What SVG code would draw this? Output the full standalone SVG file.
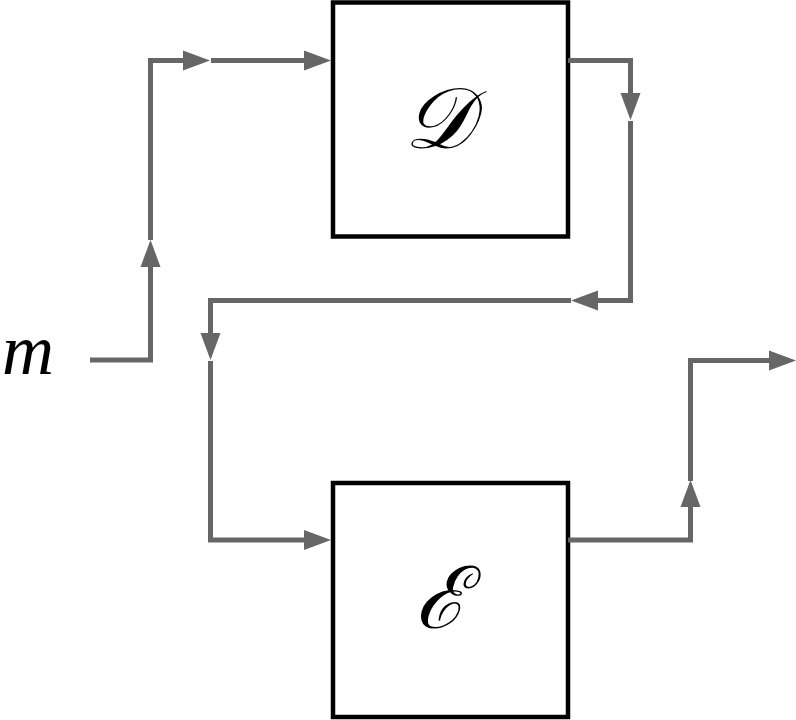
<svg xmlns="http://www.w3.org/2000/svg" width="796" height="720" viewBox="0 0 796 720">
<style>
.box{fill:#fff;stroke:#000;stroke-width:4.5}
.wire{fill:none;stroke:#666;stroke-width:5;stroke-linejoin:miter}
.sym{font-family:"DejaVu Serif","Liberation Serif",serif;font-style:italic;fill:#000}
</style>
<defs>
<marker id="ah" markerUnits="userSpaceOnUse" markerWidth="28" markerHeight="22" viewBox="0 -11 28 22" refX="0" refY="0" orient="auto">
<path d="M0,-10 L27,0 L0,10 Z" fill="#666"/>
</marker>
</defs>
<rect width="796" height="720" fill="#fff"/>
<g id="node-D">
<rect class="box" x="333" y="2.5" width="235" height="234"/>
<text class="sym" x="438" y="148" font-size="86" text-anchor="middle">𝒟</text>
</g>
<g id="node-E">
<rect class="box" x="333" y="483" width="235" height="234"/>
<text class="sym" x="441" y="628" font-size="86" text-anchor="middle">ℰ</text>
</g>
<g id="label-m">
<text x="2" y="374" font-family="Liberation Serif, serif" font-style="italic" font-size="72" fill="#000">m</text>
</g>
<g id="connectors">
<path class="wire" marker-end="url(#ah)" d="M90,360 H150.5 V267"/>
<path class="wire" marker-end="url(#ah)" d="M150.5,240 V60.5 H183"/>
<path class="wire" marker-end="url(#ah)" d="M211,60.5 H304"/>
<path class="wire" marker-end="url(#ah)" d="M568,60.5 H630.5 V93"/>
<path class="wire" marker-end="url(#ah)" d="M630.5,121 V300.5 H598"/>
<path class="wire" marker-end="url(#ah)" d="M571,300.5 H210.5 V333"/>
<path class="wire" marker-end="url(#ah)" d="M210.5,361 V540 H304"/>
<path class="wire" marker-end="url(#ah)" d="M568,540 H690.5 V507"/>
<path class="wire" marker-end="url(#ah)" d="M690.5,481 V360.5 H769"/>
</g>
</svg>
